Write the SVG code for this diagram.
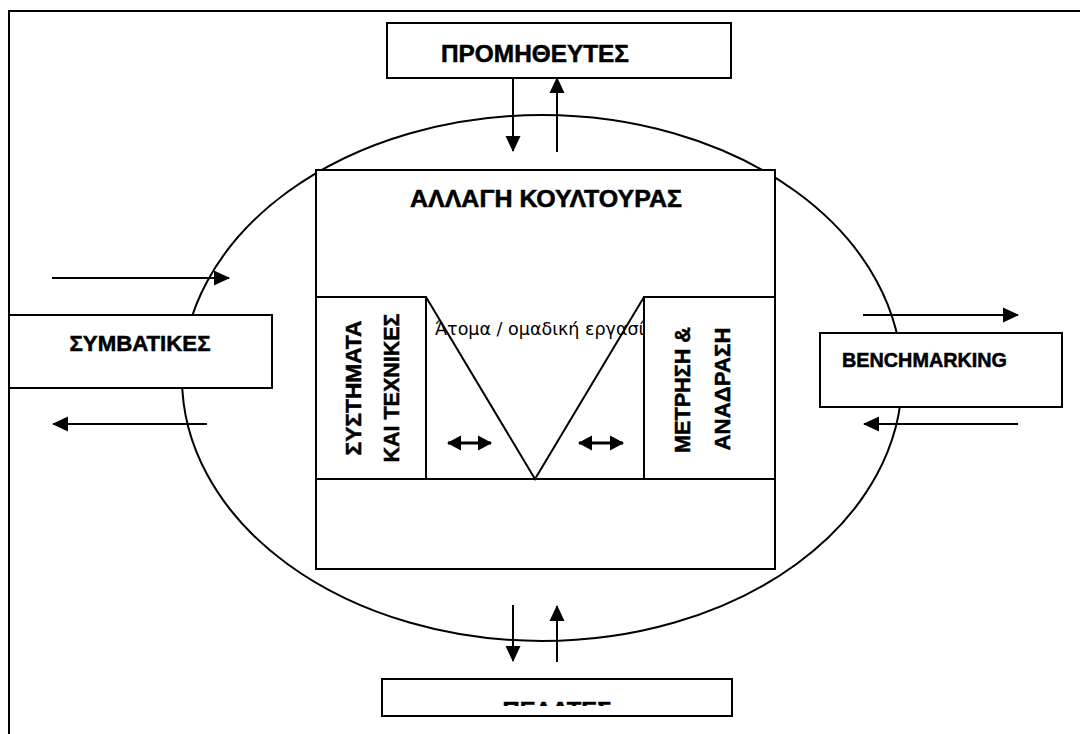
<svg xmlns="http://www.w3.org/2000/svg" width="1080" height="734" viewBox="0 0 1080 734">
  <style>
    .box { fill: #fff; stroke: #000; stroke-width: 2; }
    .line { fill: none; stroke: #000; stroke-width: 2; }
    .head { font-family: "Liberation Sans", Arial, sans-serif; font-weight: bold; fill: #000; stroke: #000; stroke-width: 0.5; }
    .note { font-family: "DejaVu Sans", "Liberation Sans", sans-serif; fill: #000; }
    .arrow { fill: none; stroke: #000; stroke-width: 2; marker-end: url(#tip); }
    .both { fill: none; stroke: #000; stroke-width: 3; marker-start: url(#tipSmall); marker-end: url(#tipSmall); }
  </style>
  <defs>
    <marker id="tip" markerUnits="userSpaceOnUse" markerWidth="16" markerHeight="16" viewBox="0 0 16 16" refX="15" refY="8" orient="auto">
      <path d="M0,0.5 L16,8 L0,15.5 Z" fill="#000"/>
    </marker>
    <marker id="tipSmall" markerUnits="userSpaceOnUse" markerWidth="14" markerHeight="16" viewBox="0 0 14 16" refX="13" refY="8" orient="auto-start-reverse">
      <path d="M0,0.5 L14,8 L0,15.5 Z" fill="#000"/>
    </marker>
    <clipPath id="clipMiddle">
      <rect x="426" y="297" width="217" height="182"/>
    </clipPath>
    <clipPath id="clipBottom">
      <rect x="383" y="680" width="348" height="26"/>
    </clipPath>
  </defs>

  <rect width="1080" height="734" fill="#fff"/>

  <!-- page frame, open on the right and bottom -->
  <path d="M9,734 L9,11 L1080,11" class="line"/>

  <!-- organisation boundary -->
  <ellipse id="boundary" cx="542" cy="378" rx="360" ry="263" class="line"/>

  <!-- central block -->
  <g id="culture">
    <rect x="316" y="170" width="459" height="399" class="box"/>
    <line x1="316" y1="297" x2="426" y2="297" class="line"/>
    <line x1="644" y1="297" x2="775" y2="297" class="line"/>
    <line x1="316" y1="479" x2="775" y2="479" class="line"/>
    <text x="546" y="207" text-anchor="middle" font-size="23" textLength="272" lengthAdjust="spacingAndGlyphs" class="head">ΑΛΛΑΓΗ ΚΟΥΛΤΟΥΡΑΣ</text>
  </g>

  <g id="systems">
    <rect x="316" y="297" width="110" height="182" class="box"/>
    <text transform="translate(361,388) rotate(-90)" text-anchor="middle" font-size="22" textLength="135" lengthAdjust="spacingAndGlyphs" class="head">ΣΥΣΤΗΜΑΤΑ</text>
    <text transform="translate(399,388) rotate(-90)" text-anchor="middle" font-size="22" textLength="149" lengthAdjust="spacingAndGlyphs" class="head">ΚΑΙ ΤΕΧΝΙΚΕΣ</text>
  </g>

  <g id="teamwork">
    <path d="M426,297 L535,479 L644,297" class="line"/>
    <text x="435" y="335" font-size="17.5" clip-path="url(#clipMiddle)" class="note">Άτομα / ομαδική εργασία</text>
  </g>

  <g id="measurement">
    <rect x="644" y="297" width="131" height="182" class="box"/>
    <text transform="translate(690,390) rotate(-90)" text-anchor="middle" font-size="22" textLength="126" lengthAdjust="spacingAndGlyphs" class="head">ΜΕΤΡΗΣΗ &amp;</text>
    <text transform="translate(730,389) rotate(-90)" text-anchor="middle" font-size="22" textLength="123" lengthAdjust="spacingAndGlyphs" class="head">ΑΝΑΔΡΑΣΗ</text>
  </g>

  <!-- surrounding parties -->
  <g id="suppliers">
    <rect x="387" y="23" width="344" height="55" class="box"/>
    <text x="535" y="62" text-anchor="middle" font-size="23" textLength="188" lengthAdjust="spacingAndGlyphs" class="head">ΠΡΟΜΗΘΕΥΤΕΣ</text>
  </g>

  <g id="conventional">
    <rect x="9" y="315" width="263" height="73" class="box"/>
    <text x="140" y="351" text-anchor="middle" font-size="22" textLength="141" lengthAdjust="spacingAndGlyphs" class="head">ΣΥΜΒΑΤΙΚΕΣ</text>
  </g>

  <g id="benchmarking">
    <rect x="820" y="333" width="242" height="74" class="box"/>
    <text x="842" y="367" font-size="19.5" textLength="165" lengthAdjust="spacingAndGlyphs" class="head">BENCHMARKING</text>
  </g>

  <g id="customers">
    <rect x="382" y="679" width="350" height="37" class="box"/>
    <text x="557" y="717" text-anchor="middle" font-size="22" textLength="109" lengthAdjust="spacingAndGlyphs" clip-path="url(#clipBottom)" class="head">ΠΕΛΑΤΕΣ</text>
  </g>

  <!-- flows -->
  <g id="connectors">
    <line x1="513" y1="78" x2="513" y2="151" class="arrow"/>
    <line x1="557" y1="152" x2="557" y2="78" class="arrow"/>
    <line x1="513" y1="605" x2="513" y2="661" class="arrow"/>
    <line x1="557" y1="662" x2="557" y2="606" class="arrow"/>
    <line x1="52" y1="278" x2="229" y2="278" class="arrow"/>
    <line x1="207" y1="424" x2="53" y2="424" class="arrow"/>
    <line x1="863" y1="315" x2="1018" y2="315" class="arrow"/>
    <line x1="1018" y1="424" x2="864" y2="424" class="arrow"/>
    <line x1="448" y1="443" x2="491" y2="443" class="both"/>
    <line x1="579" y1="443" x2="623" y2="443" class="both"/>
  </g>
</svg>
